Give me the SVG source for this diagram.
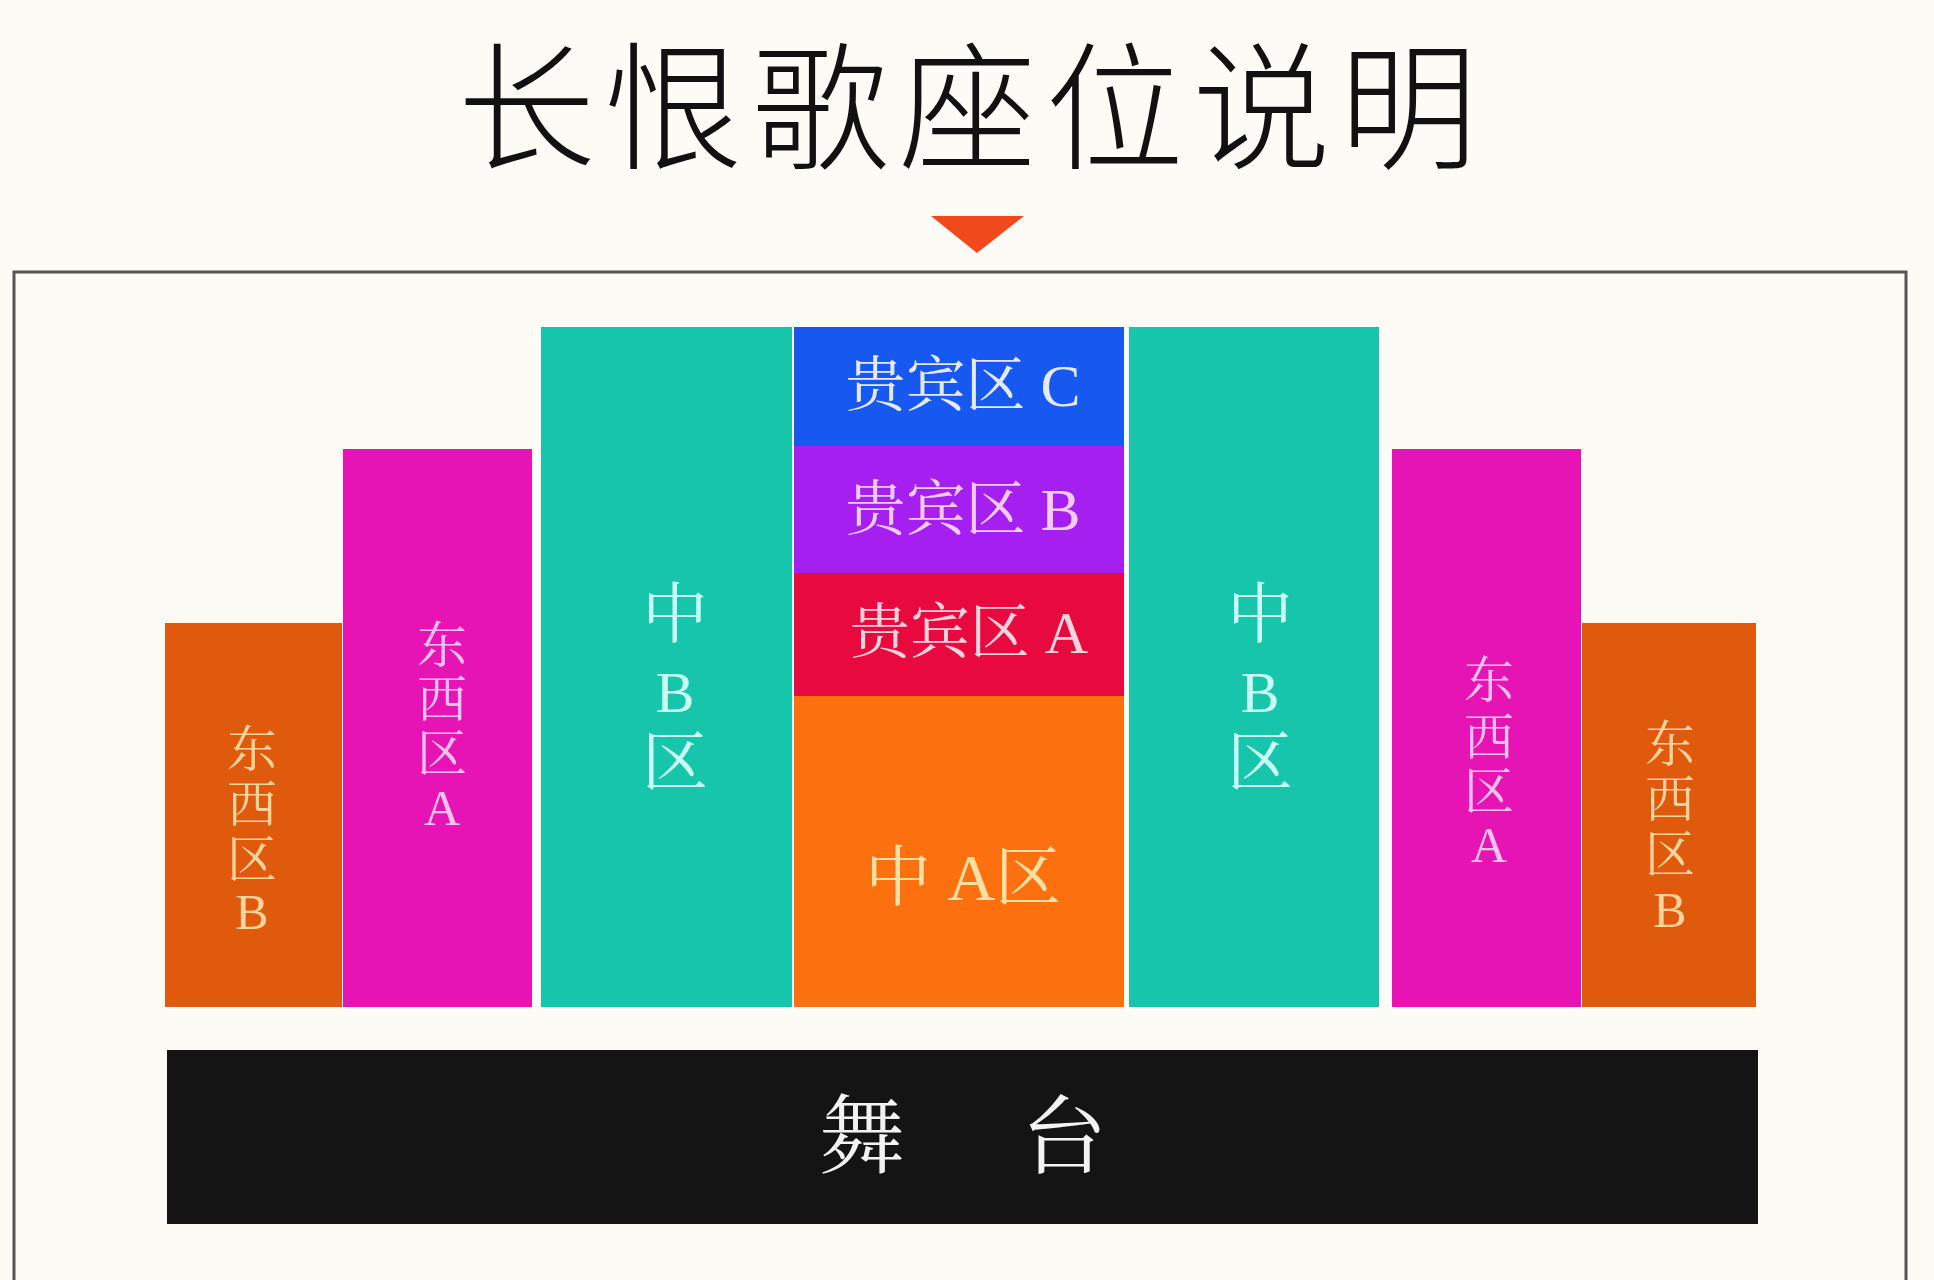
<svg xmlns="http://www.w3.org/2000/svg" width="1934" height="1280" viewBox="0 0 1934 1280">
<style>
.cjk{font-family:"Liberation Serif","Noto Serif CJK SC","Noto Sans CJK SC",serif;dominant-baseline:central;text-anchor:middle}
.title{font-family:"Noto Sans CJK SC",sans-serif;font-size:138px;font-weight:300;letter-spacing:9px;fill:#111;text-anchor:middle;dominant-baseline:central}
.ewB{fill:#df5a0c}.ewA{fill:#e614b4}.midB{fill:#16c5aa}.vipC{fill:#1759f0}.vipB{fill:#a41ff0}.vipA{fill:#e80a3e}.midA{fill:#fd7010}
.tewB{fill:#fcd39c}.tewA{fill:#fbc2ef}.tmidB{fill:#c9fff4}.tvipC{fill:#e3eaff}.tvipB{fill:#f2ccff}.tvipA{fill:#ffd3dc}.tmidA{fill:#ffe0a2}
</style>
<rect width="1934" height="1280" fill="#fdfbf5"/>
<g id="title">
<text class="title" x="972" y="98">长恨歌座位说明</text>
<polygon points="931,216 1024,216 977,253" fill="#f0491c"/>
</g>
<path d="M14,1290 V272 H1906 V1290" fill="none" stroke="#555" stroke-width="3"/>
<g id="ewB-left">
<rect class="ewB" x="165" y="623" width="177" height="384"/>
<text class="cjk tewB" font-size="50"><tspan x="252" y="750">东</tspan><tspan x="252" y="805">西</tspan><tspan x="252" y="860">区</tspan><tspan x="252" y="912">B</tspan></text>
</g>
<g id="ewA-left">
<rect class="ewA" x="343" y="449" width="189" height="558"/>
<text class="cjk tewA" font-size="50"><tspan x="442" y="646">东</tspan><tspan x="442" y="700">西</tspan><tspan x="442" y="754">区</tspan><tspan x="442" y="808">A</tspan></text>
</g>
<g id="midB-left">
<rect class="midB" x="541" y="327" width="251" height="680"/>
<text class="cjk tmidB" font-size="66"><tspan x="675" y="614">中</tspan><tspan x="675" y="692" font-size="58">B</tspan><tspan x="675" y="762">区</tspan></text>
</g>
<g id="vipC">
<rect class="vipC" x="794" y="327" width="330" height="119"/>
<text class="cjk tvipC" font-size="60" x="963" y="386">贵宾区 C</text>
</g>
<g id="vipB">
<rect class="vipB" x="794" y="446" width="330" height="127"/>
<text class="cjk tvipB" font-size="60" x="963" y="510">贵宾区 B</text>
</g>
<g id="vipA">
<rect class="vipA" x="794" y="573" width="330" height="123"/>
<text class="cjk tvipA" font-size="60" x="969" y="633">贵宾区 A</text>
</g>
<g id="midA">
<rect class="midA" x="794" y="696" width="330" height="311"/>
<text class="cjk tmidA" font-size="66" x="963" y="877">中 A区</text>
</g>
<g id="midB-right">
<rect class="midB" x="1129" y="327" width="250" height="680"/>
<text class="cjk tmidB" font-size="66"><tspan x="1260" y="614">中</tspan><tspan x="1260" y="692" font-size="58">B</tspan><tspan x="1260" y="762">区</tspan></text>
</g>
<g id="ewA-right">
<rect class="ewA" x="1392" y="449" width="189" height="558"/>
<text class="cjk tewA" font-size="50"><tspan x="1489" y="681">东</tspan><tspan x="1489" y="738">西</tspan><tspan x="1489" y="792">区</tspan><tspan x="1489" y="845">A</tspan></text>
</g>
<g id="ewB-right">
<rect class="ewB" x="1582" y="623" width="174" height="384"/>
<text class="cjk tewB" font-size="50"><tspan x="1670" y="745">东</tspan><tspan x="1670" y="800">西</tspan><tspan x="1670" y="855">区</tspan><tspan x="1670" y="910">B</tspan></text>
</g>
<g id="stage">
<rect x="167" y="1050" width="1591" height="174" fill="#141414"/>
<text class="cjk" font-size="86" fill="#f2f2f2"><tspan x="862" y="1138">舞</tspan><tspan x="1064" y="1138">台</tspan></text>
</g>
<g id="connectors"/>
</svg>
